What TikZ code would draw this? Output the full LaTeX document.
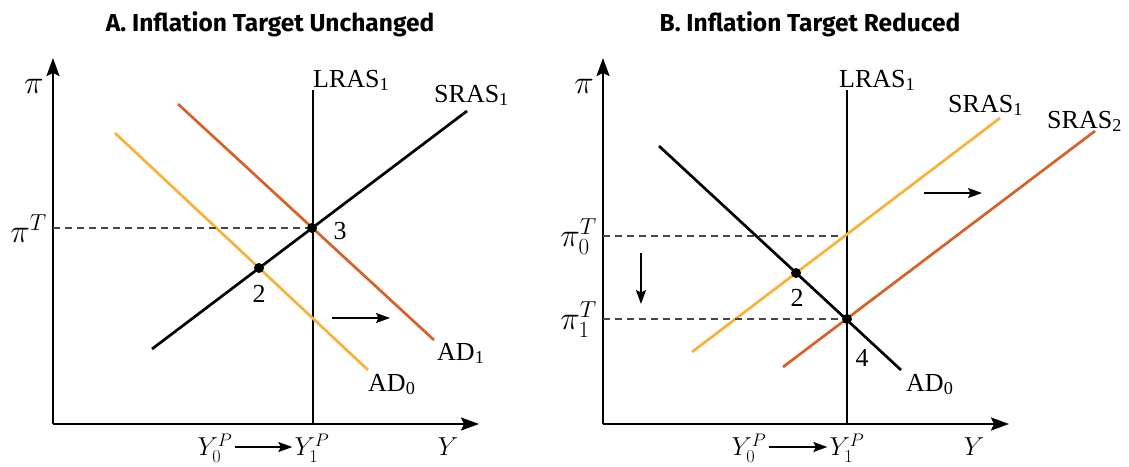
\RequirePackage{fix-cm}
\documentclass[tikz,border=0pt]{standalone}
\usepackage{fontspec}
\setmainfont{Liberation Serif}
\newfontfamily\titlefont{Fira Sans}
\usetikzlibrary{arrows.meta}
\definecolor{adyellow}{RGB}{248,178,56}
\definecolor{adorange}{RGB}{214,98,42}
\definecolor{dashgrey}{RGB}{70,70,70}
\tikzset{
  axisline/.style={line width=2.1pt, -{Stealth[length=18pt,width=13pt,inset=3pt]}},
  curve/.style={line width=2.7pt},
  guide/.style={line width=1.4pt, dashgrey, dash pattern=on 7pt off 5pt},
  movearrow/.style={line width=1.8pt, -{Stealth[length=14pt,width=10pt,inset=2.5pt]}},
  dot/.style={circle, fill=black, inner sep=0pt, minimum size=10pt},
  lbl/.style={font=\fontsize{26}{30}\selectfont, inner sep=0pt},
  pilbl/.style={font=\fontsize{33}{36}\selectfont, inner sep=0pt},
  ttl/.style={font=\titlefont\bfseries\fontsize{24.5}{28}\selectfont, inner sep=0pt}
}
\begin{document}
\begin{tikzpicture}[x=1pt,y=-1pt]
\useasboundingbox (0,0) rectangle (1129,466);
\fill[white] (0,0) rectangle (1129,466);

% ---------- Panel A ----------
\node[ttl] (tA) at (270,24) {A. Inflation Target Unchanged};
\coordinate (oA) at (53,424);
\coordinate (yA) at (53,58);
\coordinate (xA) at (479,424);
\draw[axisline] (oA) -- (yA);
\draw[axisline] (oA) -- (xA);
\coordinate (lrasAb) at (313,424);
\coordinate (lrasAt) at (313,90);
\draw[curve] (lrasAb) -- (lrasAt);
\coordinate (srasAl) at (152,349);
\coordinate (srasAu) at (467,111);
\coordinate (ad0Au) at (115,133);
\coordinate (ad0Al) at (368,370);
\coordinate (ad1Au) at (178,104);
\coordinate (ad1Al) at (434,340);
\coordinate (piTA) at (53,228);
\draw[curve, adyellow] (ad0Au) -- (ad0Al);
\draw[curve, adorange] (ad1Au) -- (ad1Al);
\draw[curve] (srasAl) -- (srasAu);
\node[dot] (p3) at (312,228) {};
\node[dot] (p2A) at (259,268) {};
\draw[guide] (piTA) -- (p3);
\coordinate (shAs) at (332,318);
\coordinate (shAe) at (390,318);
\draw[movearrow] (shAs) -- (shAe);
\node[pilbl] (piA) at (34,86) {$\pi$};
\node[pilbl, anchor=east] (piTAl) at (47,229) {$\pi^T$};
\node[lbl] (l3) at (340,231) {3};
\node[lbl] (l2A) at (259,294) {2};
\node[lbl, anchor=base west] (lrasAl) at (313,87) {LRAS\textsubscript{1}};
\node[lbl, anchor=base west] (srasAlb) at (434,102) {SRAS\textsubscript{1}};
\node[lbl, anchor=base west] (ad1Alb) at (437,360) {AD\textsubscript{1}};
\node[lbl, anchor=base west] (ad0Alb) at (368,391) {AD\textsubscript{0}};
\node[lbl] (y0A) at (215,448) {$Y_0^P$};
\node[lbl] (y1A) at (312,448) {$Y_1^P$};
\draw[movearrow] ([yshift=1pt,xshift=2pt]y0A.east) -- ([yshift=1pt,xshift=-2pt]y1A.west);
\node[lbl] (yAl) at (448,447) {$Y$};

% ---------- Panel B ----------
\node[ttl] (tB) at (810,24) {B. Inflation Target Reduced};
\coordinate (oB) at (603,424);
\coordinate (yB) at (603,58);
\coordinate (xB) at (1009,424);
\draw[axisline] (oB) -- (yB);
\draw[axisline] (oB) -- (xB);
\coordinate (lrasBb) at (847,424);
\coordinate (lrasBt) at (847,90);
\draw[curve] (lrasBb) -- (lrasBt);
\coordinate (pi0B) at (603,236);
\coordinate (pi0Be) at (847,236);
\coordinate (pi1B) at (603,319);
\draw[guide] (pi0B) -- (pi0Be);
\coordinate (sras1Bl) at (692,352);
\coordinate (sras1Bu) at (1000,118);
\coordinate (sras2Bl) at (783,367);
\coordinate (sras2Bu) at (1095,131);
\coordinate (adBu) at (659,146);
\coordinate (adBl) at (901,370);
\draw[curve, adyellow] (sras1Bl) -- (sras1Bu);
\draw[curve, adorange] (sras2Bl) -- (sras2Bu);
\draw[curve] (adBu) -- (adBl);
\node[dot] (p2B) at (796,273) {};
\node[dot] (p4) at (847,319) {};
\draw[guide] (pi1B) -- (p4);
\coordinate (dnS) at (641,253);
\coordinate (dnE) at (641,304);
\draw[movearrow] (dnS) -- (dnE);
\coordinate (rtS) at (924,193);
\coordinate (rtE) at (982,193);
\draw[movearrow] (rtS) -- (rtE);
\node[pilbl] (piB) at (584,86) {$\pi$};
\node[pilbl, anchor=east] (pi0l) at (597,237) {$\pi_0^T$};
\node[pilbl, anchor=east] (pi1l) at (597,320) {$\pi_1^T$};
\node[lbl] (l2B) at (797,298) {2};
\node[lbl] (l4) at (862,358) {4};
\node[lbl, anchor=base west] (lrasBl) at (839,87) {LRAS\textsubscript{1}};
\node[lbl, anchor=base west] (sras1Blb) at (948,112) {SRAS\textsubscript{1}};
\node[lbl, anchor=base west] (sras2Blb) at (1047,128) {SRAS\textsubscript{2}};
\node[lbl, anchor=base west] (adBlb) at (906,391) {AD\textsubscript{0}};
\node[lbl] (y0B) at (749,448) {$Y_0^P$};
\node[lbl] (y1B) at (847,448) {$Y_1^P$};
\draw[movearrow] ([yshift=1pt,xshift=2pt]y0B.east) -- ([yshift=1pt,xshift=-2pt]y1B.west);
\node[lbl] (yBl) at (974,447) {$Y$};
\end{tikzpicture}
\end{document}
